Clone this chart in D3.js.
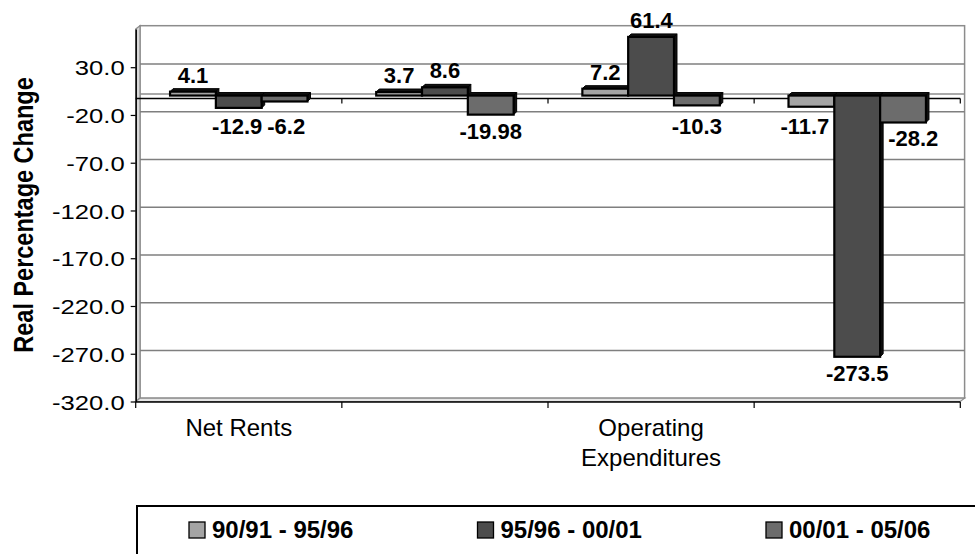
<!DOCTYPE html>
<html>
<head>
<meta charset="utf-8">
<script src="https://cdn.jsdelivr.net/npm/d3@7"></script>
<style>
  html, body { margin: 0; padding: 0; background: #fff; }
  svg { display: block; font-family: "Liberation Sans", Arial, sans-serif; }
</style>
</head>
<body>
<svg id="chart" width="975" height="554"></svg>
<script>
// ---------- data ----------
const categories = ["Net Rents", "Gross Revenues", "Operating Expenditures", "Net Operating Income"];
const seriesNames = ["90/91 - 95/96", "95/96 - 00/01", "00/01 - 05/06"];
const series1 = [4.1, 3.7, 7.2, -11.7];
const series2 = [-12.9, 8.6, 61.4, -273.5];
const series3 = [-6.2, -19.98, -10.3, -28.2];
const yTicks = [-320, -270, -220, -170, -120, -70, -20, 30];
const yAxisTitle = "Real Percentage Change";
const seriesColors = ["#a4a4a4", "#4c4c4c", "#6c6c6c"];

const seriesValues = [series1, series2, series3];

// ---------- layout ----------
const svg = d3.select("#chart");
const FONT = '"Liberation Sans", Arial, sans-serif';
const fmt = d3.formatLocale({ decimal: ".", thousands: ",", grouping: [3], currency: ["$", ""], minus: "-" }).format(".1f");
const depthX = 4.3, depthY = 3.3;          // wall depth (front -> back)
const frontL = 135.7, frontR = 960.3;
const backL = frontL + depthX, backR = frontR + depthX;

const yBack = d3.scaleLinear().domain([-320, 70]).range([398.2, 25.7]);
const yFront = yBack.copy().range([398.2 + depthY, 25.7 + depthY]);

const x0 = d3.scaleBand().domain(categories).range([frontL, frontR]).paddingInner(0).paddingOuter(0);
const x1 = d3.scaleBand().domain(seriesNames).range([0, x0.bandwidth()]).paddingInner(0).paddingOuter(0.75);

// ---------- walls ----------
svg.append("rect")
  .attr("x", backL).attr("y", yBack(70))
  .attr("width", backR - backL).attr("height", yBack(-320) - yBack(70))
  .attr("fill", "#fff").attr("stroke", "#8c8c8c").attr("stroke-width", 1.5);
svg.append("path")
  .attr("d", `M${frontL},${yFront(70)} L${backL},${yBack(70)} L${backL},${yBack(-320)} L${frontL},${yFront(-320)} Z`)
  .attr("fill", "#d9d9d9").attr("stroke", "#8c8c8c").attr("stroke-width", 1.2);
svg.append("path")
  .attr("d", `M${frontL},${yFront(-320)} L${backL},${yBack(-320)} L${backR},${yBack(-320)} L${frontR},${yFront(-320)} Z`)
  .attr("fill", "#e6e6e6").attr("stroke", "#8c8c8c").attr("stroke-width", 1.2);

svg.append("g").selectAll("line")
  .data(yTicks.filter(t => t > -320))
  .join("line")
  .attr("x1", backL).attr("x2", backR)
  .attr("y1", d => yBack(d)).attr("y2", d => yBack(d))
  .attr("stroke", "#7f7f7f").attr("stroke-width", 1.5);

// zero plane lines
const zeroBackY = yBack(0) + 1.5;
const zeroFrontY = yBack(0) + 6;
svg.append("line")
  .attr("x1", backL).attr("x2", backR).attr("y1", zeroBackY).attr("y2", zeroBackY)
  .attr("stroke", "#8c8c8c").attr("stroke-width", 1.5);
svg.append("line")
  .attr("x1", frontL).attr("x2", frontR).attr("y1", zeroFrontY).attr("y2", zeroFrontY)
  .attr("stroke", "#000").attr("stroke-width", 1.5);
const boundaries = categories.map(c => x0(c)).concat([frontR]);
svg.append("g").selectAll("line")
  .data(boundaries.slice(1))
  .join("line")
  .attr("x1", d => d).attr("x2", d => d)
  .attr("y1", zeroFrontY).attr("y2", zeroFrontY + 5)
  .attr("stroke", "#000").attr("stroke-width", 1.2);

// ---------- y axis ----------
const yAxisG = svg.append("g")
  .attr("transform", `translate(${frontL},0)`)
  .call(d3.axisLeft(yFront).tickValues(yTicks).tickFormat(fmt)
        .tickSize(5).tickSizeOuter(0).tickPadding(6));
yAxisG.select(".domain").attr("stroke", "#000").attr("stroke-width", 1.5);
yAxisG.selectAll(".tick line").attr("stroke", "#000").attr("stroke-width", 1.2);
yAxisG.selectAll(".tick text")
  .attr("font-family", FONT).attr("font-size", 21).attr("fill", "#000")
  .attr("dy", "0.36em")
  .each(function() {
    const w = this.getComputedTextLength();
    d3.select(this).attr("textLength", w * 1.22).attr("lengthAdjust", "spacingAndGlyphs");
  });

svg.append("text")
  .attr("transform", "translate(33,215) scale(1.2,1) rotate(-90)")
  .attr("text-anchor", "middle")
  .attr("font-family", FONT).attr("font-size", 23.5).attr("font-weight", "bold")
  .text(yAxisTitle);

// ---------- category axis (bottom) ----------
const axisBottomY = yFront(-320) + 0.5;
svg.append("line")
  .attr("x1", frontL).attr("x2", frontR).attr("y1", axisBottomY).attr("y2", axisBottomY)
  .attr("stroke", "#000").attr("stroke-width", 1.5);
svg.append("g").selectAll("line")
  .data(boundaries)
  .join("line")
  .attr("x1", d => d).attr("x2", d => d)
  .attr("y1", axisBottomY).attr("y2", axisBottomY + 6)
  .attr("stroke", "#000").attr("stroke-width", 1.2);

const catAxis = svg.append("g")
  .attr("transform", `translate(0,${axisBottomY})`)
  .call(d3.axisBottom(x0).tickSize(0).tickFormat((d, i) => i % 2 === 0 ? d : ""));
catAxis.select(".domain").remove();
catAxis.selectAll(".tick text")
  .attr("font-family", FONT).attr("font-size", 24).attr("fill", "#000")
  .attr("y", 34).attr("dy", 0)
  .each(function() {
    const t = d3.select(this);
    const label = t.text();
    if (!label) return;
    if (this.getComputedTextLength() > x0.bandwidth()) {
      const words = label.split(" ");
      t.text(null);
      words.forEach((w, i) => {
        t.append("tspan").attr("x", 0).attr("dy", i === 0 ? 0 : 30).text(w);
      });
    }
  });

// ---------- bars ----------
const barDepth = 3;
const yBar = v => yBack(v) + 3;
const barData = [];
categories.forEach((c, ci) => {
  seriesNames.forEach((s, si) => {
    barData.push({ cat: c, ser: s, si, value: seriesValues[si][ci] });
  });
});

const barsG = svg.append("g");
const barBoxes = [];
barData.forEach((d, idx) => {
  const x = x0(d.cat) + x1(d.ser);
  const w = x1.bandwidth();
  const top = yBar(Math.max(0, d.value));
  const bottom = yBar(Math.min(0, d.value));
  barBoxes.push({ idx, x1: x, x2: x + w + barDepth, y1: top - barDepth, y2: bottom });
  const g = barsG.append("g");
  g.append("path")
    .attr("d", `M${x},${top} L${x + barDepth},${top - barDepth} L${x + w + barDepth},${top - barDepth} L${x + w},${top} Z`)
    .attr("fill", "#111").attr("stroke", "#000").attr("stroke-width", 1);
  g.append("path")
    .attr("d", `M${x + w},${top} L${x + w + barDepth},${top - barDepth} L${x + w + barDepth},${bottom - barDepth} L${x + w},${bottom} Z`)
    .attr("fill", "#111").attr("stroke", "#000").attr("stroke-width", 1);
  g.append("rect")
    .attr("x", x).attr("y", top)
    .attr("width", w).attr("height", Math.max(0.5, bottom - top))
    .attr("fill", seriesColors[d.si])
    .attr("stroke", "#000").attr("stroke-width", 2.2);
});

// ---------- data labels (with simple overlap nudging) ----------
const labels = svg.append("g").selectAll("text")
  .data(barData)
  .join("text")
  .attr("x", d => x0(d.cat) + x1(d.ser) + x1.bandwidth() / 2)
  .attr("y", d => d.value >= 0 ? yBar(d.value) - barDepth - 6 : Math.max(yBar(d.value) + 24, 134))
  .attr("text-anchor", "middle")
  .attr("font-family", FONT).attr("font-size", 22).attr("font-weight", "bold")
  .text(d => String(d.value));

const lb = [];
labels.each(function(d, i) {
  const b = this.getBBox();
  lb.push({ i, el: this, cx: b.x + b.width / 2, w: b.width, y1: b.y + 3, y2: b.y + b.height - 3 });
});
const gap = 5;
for (let iter = 0; iter < 6; iter++) {
  lb.forEach(a => {
    // other bars
    barBoxes.forEach(bb => {
      if (bb.idx === a.i) return;
      const l = a.cx - a.w / 2, r = a.cx + a.w / 2;
      if (a.y2 > bb.y1 && a.y1 < bb.y2 && r > bb.x1 && l < bb.x2) {
        const bc = (bb.x1 + bb.x2) / 2;
        if (a.cx < bc) a.cx -= (r - bb.x1) + gap;
        else a.cx += (bb.x2 - l) + gap;
      }
    });
  });
  // other labels
  for (let p = 0; p < lb.length; p++) {
    for (let q = p + 1; q < lb.length; q++) {
      const a = lb[p], b = lb[q];
      if (a.y2 > b.y1 && a.y1 < b.y2) {
        const ov = (a.w / 2 + b.w / 2 + gap) - Math.abs(a.cx - b.cx);
        if (ov > 0) {
          if (a.cx <= b.cx) { a.cx -= ov / 2; b.cx += ov / 2; }
          else { a.cx += ov / 2; b.cx -= ov / 2; }
        }
      }
    }
  }
}
lb.forEach(a => d3.select(a.el).attr("x", a.cx));

// ---------- legend ----------
const legendTop = 506;
svg.append("rect")
  .attr("x", 137).attr("y", legendTop)
  .attr("width", 900).attr("height", 80)
  .attr("fill", "#fff").attr("stroke", "#000").attr("stroke-width", 2);
const leg = svg.append("g").selectAll("g")
  .data(seriesNames)
  .join("g")
  .attr("transform", (d, i) => `translate(${189 + i * 288.5},${legendTop + 16})`);
leg.append("rect")
  .attr("width", 16).attr("height", 16)
  .attr("fill", (d, i) => seriesColors[i])
  .attr("stroke", "#000").attr("stroke-width", 1.3);
leg.append("text")
  .attr("x", 23).attr("y", 15.5)
  .attr("font-family", FONT).attr("font-size", 24).attr("font-weight", "bold")
  .text(d => d);
</script>
</body>
</html>
